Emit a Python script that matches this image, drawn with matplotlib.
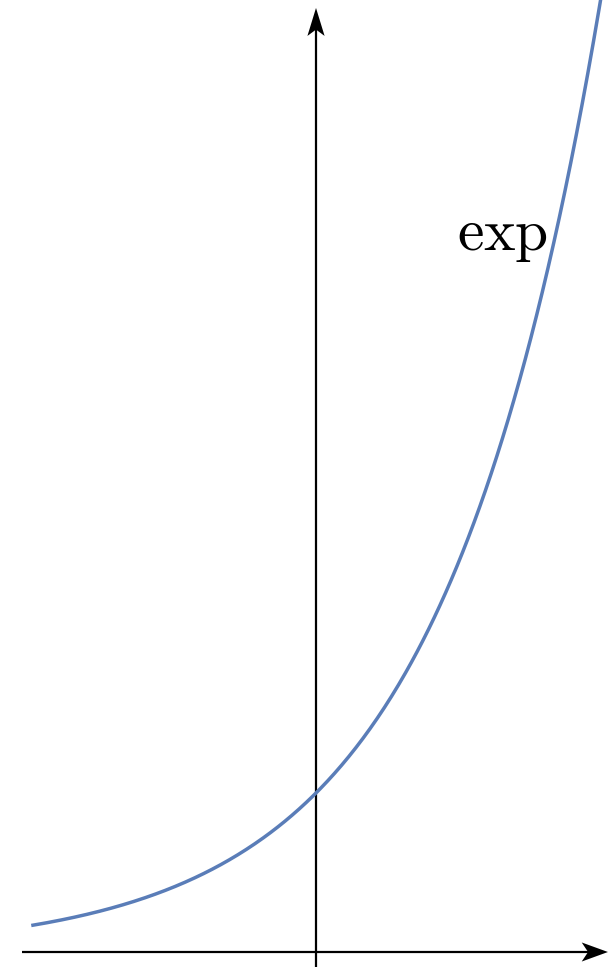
import numpy as np
import matplotlib.pyplot as plt
from matplotlib.patches import Polygon

plt.rcParams['mathtext.fontset'] = 'cm'

# domain of the plotted curve and axis extents (data units)
x_start, x_end = -1.78, 1.79
x_axis_span = (-1.849, 1.836)
y_axis_span = (-0.095, 5.937)
curve_label = r"$\exp$"
label_pos = (0.887, 4.415)

curve_color = '#5a7db8'

x = np.linspace(x_start, x_end, 400)
y = np.exp(x)

fig = plt.figure(figsize=(6.08, 9.67), dpi=100)
ax = fig.add_axes([0, 0, 1, 1])
ax.set_xlim(-1.987, 1.836)
ax.set_ylim(-0.0943, 5.987)
ax.set_aspect('equal')
ax.axis('off')

# axes lines
ax.plot([x_axis_span[0], x_axis_span[1] - 0.1], [0, 0], color='black', lw=1.6, solid_capstyle='butt')
ax.plot([0, 0], [y_axis_span[0], y_axis_span[1] - 0.1], color='black', lw=1.6, solid_capstyle='butt')


def arrow_head(tip, direction, length=0.17, half_width=0.056, notch=0.04):
    d = np.array(direction, dtype=float)
    n = np.array([-d[1], d[0]])
    tip = np.array(tip)
    back = tip - d * length
    pts = [tip, back + n * half_width, tip - d * (length - notch), back - n * half_width]
    ax.add_patch(Polygon(pts, closed=True, color='black', lw=0))


arrow_head((x_axis_span[1], 0), (1, 0), length=0.165, half_width=0.06)
arrow_head((0, y_axis_span[1]), (0, 1), length=0.176, half_width=0.054)

ax.plot(x, y, color=curve_color, lw=2.5)
ax.text(*label_pos, curve_label, fontsize=43, ha='left', va='baseline')

fig.savefig('out.png', dpi=100)
